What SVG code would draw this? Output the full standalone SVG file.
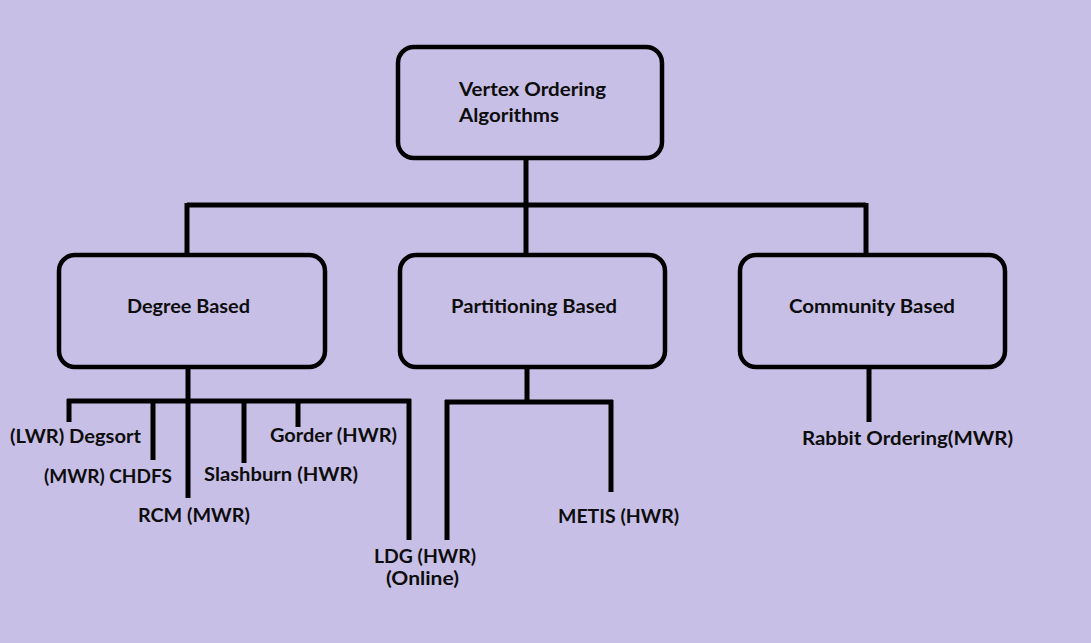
<svg xmlns="http://www.w3.org/2000/svg" width="1091" height="643" viewBox="0 0 1091 643">
<style>
.box{fill:#C8BFE7;stroke:#000;stroke-width:4.5}
.ln{stroke:#000;stroke-width:5;fill:none;stroke-linecap:butt}
text{font-family:Lato,"Liberation Sans",sans-serif;font-weight:bold;font-size:19px;fill:#0d0d0d}
</style>
<rect width="1091" height="643" fill="#C8BFE7"/>
<g id="connectors">
<path class="ln" d="M526 160V205M187 205H866M187 203V253M526 203V253M866 203V253"/>
<path class="ln" d="M188 368V498M67 401H411M69 399V422M153 399V460M244 399V463M298 399V427M409 399V540"/>
<path class="ln" d="M527 368V402M445 402H613M447 400V540M611 400V492"/>
<path class="ln" d="M869 368V422"/>
</g>
<g id="root"><rect class="box" x="398" y="47" width="264" height="111" rx="16"/>
<text x="459" y="96" textLength="147" lengthAdjust="spacingAndGlyphs">Vertex Ordering</text>
<text x="459" y="122" textLength="100" lengthAdjust="spacingAndGlyphs">Algorithms</text></g>
<g id="degree"><rect class="box" x="59" y="255" width="266" height="112" rx="16"/>
<text x="127" y="313" textLength="123" lengthAdjust="spacingAndGlyphs">Degree Based</text></g>
<g id="partition"><rect class="box" x="400" y="255" width="265" height="112" rx="16"/>
<text x="451" y="313" textLength="166" lengthAdjust="spacingAndGlyphs">Partitioning Based</text></g>
<g id="community"><rect class="box" x="740" y="255" width="265" height="112" rx="16"/>
<text x="789" y="313" textLength="166" lengthAdjust="spacingAndGlyphs">Community Based</text></g>
<g id="degsort"><text x="10" y="443" textLength="131" lengthAdjust="spacingAndGlyphs">(LWR) Degsort</text></g>
<g id="chdfs"><text x="44" y="483" textLength="128" lengthAdjust="spacingAndGlyphs">(MWR) CHDFS</text></g>
<g id="rcm"><text x="138" y="522" textLength="112" lengthAdjust="spacingAndGlyphs">RCM (MWR)</text></g>
<g id="slashburn"><text x="204" y="481" textLength="154" lengthAdjust="spacingAndGlyphs">Slashburn (HWR)</text></g>
<g id="gorder"><text x="270" y="442" textLength="127" lengthAdjust="spacingAndGlyphs">Gorder (HWR)</text></g>
<g id="ldg"><text x="374" y="563" textLength="102" lengthAdjust="spacingAndGlyphs">LDG (HWR)</text>
<text x="386" y="585" textLength="73" lengthAdjust="spacingAndGlyphs">(Online)</text></g>
<g id="metis"><text x="558" y="523" textLength="121" lengthAdjust="spacingAndGlyphs">METIS (HWR)</text></g>
<g id="rabbit"><text x="802" y="445" textLength="211" lengthAdjust="spacingAndGlyphs">Rabbit Ordering(MWR)</text></g>
</svg>
